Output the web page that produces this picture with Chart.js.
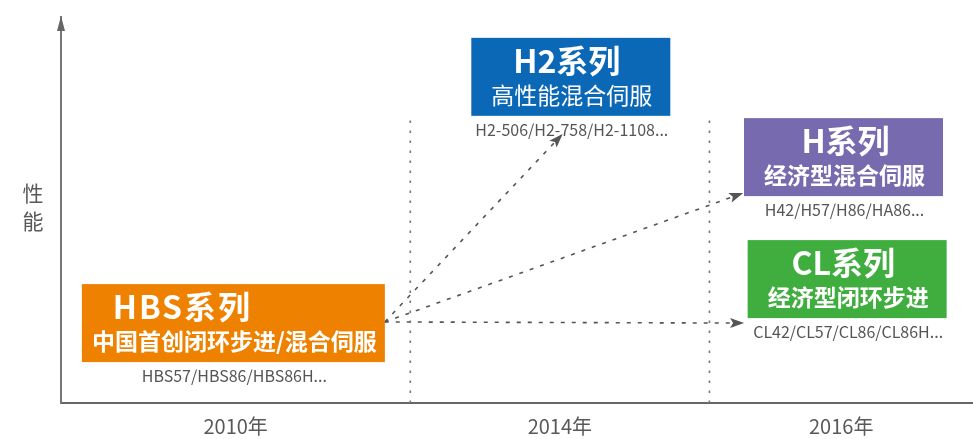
<!DOCTYPE html>
<html>
<head>
<meta charset="utf-8">
<script src="https://cdn.jsdelivr.net/npm/chart.js@4/dist/chart.umd.min.js"></script>
<style>
  html, body { margin: 0; padding: 0; background: #fff; }
  #wrap { width: 973px; height: 439px; position: relative; }
</style>
</head>
<body>
<div id="wrap"><canvas id="roadmap"></canvas></div>
<script>
// timeline (x, 0-100 along the axis) and performance (y, 0-100)
const yearLabels = ['2010年', '2014年', '2016年'];
const periodEdges = [0, 38.3, 71.1, 100];
const dividerTop = 74.6;

const seriesNames = ['HBS系列', 'H2系列', 'H系列', 'CL系列'];
const seriesDesc = ['中国首创闭环步进/混合伺服', '高性能混合伺服', '经济型混合伺服', '经济型闭环步进'];
const seriesModels = ['HBS57/HBS86/HBS86H...', 'H2-506/H2-758/H2-1108...', 'H42/H57/H86/HA86...', 'CL42/CL57/CL86/CL86H...'];
const seriesTime = [18.9, 55.9, 85.8, 86.2];
const seriesPerf = [20.7, 84.5, 63.7, 32.1];

// upgrade arrows, all leaving the HBS box
const arrowFrom = { x: 35.5, y: 21.0 };
const arrowToTime = [55.0, 74.8, 74.9];
const arrowToPerf = [69.7, 54.4, 20.7];

// styles
const seriesColors = ['#EE8200', '#0A68B6', '#786AAE', '#40AE3F'];
const boxWidths = [303, 199, 199, 199];
const titleShift = [-51, -4, 2, -4];
const descBold = [true, false, true, true];
const BOX_H = 78;
const FONT = '"Noto Sans CJK SC", "Noto Sans", sans-serif';

const datasets = [];

// dotted period dividers
for (let i = 1; i < periodEdges.length - 1; i++) {
    datasets.push({
        type: 'line', kind: 'divider',
        data: [{ x: periodEdges[i], y: 0 }, { x: periodEdges[i], y: dividerTop }],
        borderColor: '#777', borderWidth: 1.6, borderDash: [2.5, 7.5],
        pointRadius: 0, fill: false
    });
}

// dotted arrows
arrowToTime.forEach((t, i) => {
    datasets.push({
        type: 'line', kind: 'arrow',
        data: [{ x: arrowFrom.x, y: arrowFrom.y }, { x: t, y: arrowToPerf[i] }],
        borderColor: '#555', borderWidth: 1.6, borderDash: [4, 7],
        pointRadius: 0, fill: false
    });
});

// series anchors (boxes drawn by plugin)
datasets.push({
    type: 'scatter', kind: 'series',
    data: seriesTime.map((t, i) => ({ x: t, y: seriesPerf[i] })),
    pointRadius: 0
});

const roadmapPlugin = {
    id: 'roadmap',
    afterDatasetsDraw(chart) {
        const ctx = chart.ctx;
        chart.data.datasets.forEach((ds, di) => {
            const meta = chart.getDatasetMeta(di);
            if (ds.kind === 'arrow') {
                const p0 = meta.data[0], p1 = meta.data[1];
                const a = Math.atan2(p1.y - p0.y, p1.x - p0.x);
                ctx.save();
                ctx.translate(p1.x, p1.y);
                ctx.rotate(a);
                ctx.fillStyle = '#555';
                ctx.beginPath();
                ctx.moveTo(0, 0);
                ctx.lineTo(-14, -5);
                ctx.lineTo(-11, 0);
                ctx.lineTo(-14, 5);
                ctx.closePath();
                ctx.fill();
                ctx.restore();
            }
            if (ds.kind === 'series') {
                meta.data.forEach((pt, i) => {
                    const w = boxWidths[i];
                    const left = pt.x - w / 2, top = pt.y - BOX_H / 2;
                    ctx.save();
                    ctx.fillStyle = seriesColors[i];
                    ctx.fillRect(left, top, w, BOX_H);
                    ctx.fillStyle = '#fff';
                    ctx.textAlign = 'center';
                    ctx.textBaseline = 'middle';
                    ctx.font = 'bold 32px ' + FONT;
                    if (i === 0) ctx.letterSpacing = '2px';
                    ctx.fillText(seriesNames[i], pt.x + titleShift[i], top + 23);
                    ctx.letterSpacing = '0px';
                    ctx.font = (descBold[i] ? 'bold ' : '') + '23px ' + FONT;
                    ctx.fillText(seriesDesc[i], pt.x + 1, top + 57);
                    ctx.fillStyle = '#555';
                    ctx.font = '16px ' + FONT;
                    ctx.fillText(seriesModels[i], pt.x + 1, top + 92);
                    ctx.restore();
                });
            }
        });
    },
    afterDraw(chart) {
        const ctx = chart.ctx;
        const area = chart.chartArea;
        // arrow head on the performance axis
        ctx.save();
        ctx.fillStyle = '#666';
        ctx.beginPath();
        ctx.moveTo(area.left, area.top - 1);
        ctx.lineTo(area.left - 4, area.top + 14);
        ctx.lineTo(area.left + 4, area.top + 14);
        ctx.closePath();
        ctx.fill();
        // vertical axis title
        const mid = (area.top + area.bottom) / 2;
        ctx.fillStyle = '#595959';
        ctx.font = '21px ' + FONT;
        ctx.textAlign = 'center';
        ctx.textBaseline = 'middle';
        ctx.fillText('性', 33, mid - 17);
        ctx.fillText('能', 33, mid + 11);
        ctx.restore();
    }
};

const labelCenters = yearLabels.map((_, i) => (periodEdges[i] + periodEdges[i + 1]) / 2);

new Chart(document.getElementById('roadmap'), {
    type: 'scatter',
    data: { datasets },
    options: {
        responsive: true,
        maintainAspectRatio: false,
        animation: false,
        devicePixelRatio: 1,
        layout: { padding: { top: 17, right: 0, left: 0, bottom: 0 } },
        plugins: { legend: { display: false }, tooltip: { enabled: false } },
        scales: {
            x: {
                type: 'linear', min: 0, max: 100,
                grid: { display: false, drawTicks: false },
                border: { display: true, color: '#666', width: 2 },
                afterBuildTicks: (scale) => { scale.ticks = labelCenters.map(v => ({ value: v })); },
                afterFit: (scale) => { scale.height = 36; },
                ticks: {
                    autoSkip: false, maxRotation: 0, padding: 11,
                    color: '#595959', font: { family: FONT, size: 20 },
                    callback: (v, i) => yearLabels[i]
                }
            },
            y: {
                type: 'linear', min: 0, max: 100,
                grid: { display: false, drawTicks: false },
                border: { display: true, color: '#777', width: 2 },
                ticks: { display: false },
                afterFit: (scale) => { scale.width = 61; }
            }
        }
    },
    plugins: [roadmapPlugin]
});
</script>
</body>
</html>
